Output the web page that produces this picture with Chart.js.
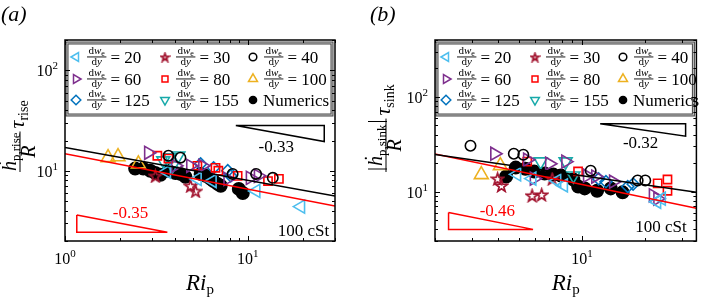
<!DOCTYPE html>
<html><head><meta charset="utf-8">
<script src="https://cdn.jsdelivr.net/npm/chart.js@4.4.1/dist/chart.umd.min.js"></script>
<style>
html,body{margin:0;padding:0;background:#fff;}
#wrap{position:relative;width:706px;height:297px;overflow:hidden;background:#fff;}
canvas{position:absolute;top:0;}
</style></head><body>
<div id="wrap">
<canvas id="ca" width="353" height="297" style="left:0;width:353px;height:297px"></canvas>
<canvas id="cb" width="353" height="297" style="left:353px;width:353px;height:297px"></canvas>
</div>
<script>
// ---------------- DATA : panel (a) ----------------
const A_X_20 = [3.6, 5.3, 6.4, 11.1, 19.5];
const A_Y_20 = [9.8, 8.3, 7.9, 6.3, 4.4];
const A_X_30 = [3.12, 4.86, 5.18];
const A_Y_30 = [8.9, 7.1, 6.3];
const A_X_40 = [3.68, 4.28, 8.26, 11.1, 13.7];
const A_Y_40 = [14.1, 13.5, 9.3, 9.3, 8.5];
const A_X_60 = [2.86, 4.02, 4.86, 5.66, 7.77, 10.3, 11.4];
const A_Y_60 = [15.1, 11.2, 11.2, 11.2, 8.3, 8.5, 8.9];
const A_X_80 = [3.2, 3.68, 5.3, 6.66, 6.9, 8.8, 12.9, 14.8];
const A_Y_80 = [14.1, 13.2, 11.2, 10.7, 10.0, 8.9, 7.9, 8.3];
const A_X_100 = [1.72, 1.95, 2.52];
const A_Y_100 = [13.5, 13.8, 11.7];
const A_X_125 = [5.52, 6.5, 7.77, 8.07];
const A_Y_125 = [11.7, 10.7, 10.0, 8.9];
const A_X_155 = [3.45, 3.77, 4.17, 3.87];
const A_Y_155 = [12.6, 13.5, 14.1, 11.2];
const A_X_NUM = [2.42, 2.68, 2.93, 3.12, 3.33, 3.68, 4.02, 4.28, 4.56, 5.52, 5.88, 6.26, 6.5, 6.84, 7.11, 8.93, 9.39];
const A_Y_NUM = [10.5, 10.5, 10.0, 9.5, 9.1, 10.0, 9.5, 9.3, 8.7, 9.3, 8.9, 8.3, 7.9, 7.4, 7.1, 6.6, 6.0];
const A_FIT_BLACK_X = [1, 30], A_FIT_BLACK_Y = [17.0, 5.6];
const A_FIT_RED_X = [1, 30], A_FIT_RED_Y = [14.8, 4.47];
const A_TRI_BLACK_X = [8.6, 26.2, 26.2, 8.6], A_TRI_BLACK_Y = [28.2, 28.2, 19.5, 28.2];
const A_TRI_RED_X = [1.16, 1.16, 3.63, 1.16], A_TRI_RED_Y = [3.63, 2.45, 2.45, 3.63];
const A_X_TICKS = [1,2,3,4,5,6,7,8,9,10,20,30];
const A_Y_TICKS = [2,3,4,5,6,7,8,9,10,20,30,40,50,60,70,80,90,100,200];

// ---------------- DATA : panel (b) ----------------
const B_X_20 = [4.9, 5.79, 7.6, 8.18, 22.7, 23.9];
const B_Y_20 = [15.2, 13.7, 13.0, 11.6, 7.8, 8.4];
const B_X_30 = [3.97, 4.14, 5.79, 6.43, 7.22];
const B_Y_30 = [13.7, 11.6, 9.1, 9.3, 13.7];
const B_X_40 = [2.95, 4.74, 5.26, 11.0, 18.4, 20.0];
const B_Y_40 = [30.5, 25.1, 24.5, 16.6, 13.1, 13.1];
const B_X_60 = [3.84, 5.5, 5.92, 7.0, 8.36, 10.6, 11.6, 14.1, 21.8, 22.9];
const B_Y_60 = [25.1, 21.7, 13.7, 19.7, 20.7, 14.7, 14.4, 12.7, 9.1, 8.4];
const B_X_80 = [5.49, 9.58, 22.9, 25.5, 25.5];
const B_Y_80 = [20.7, 16.3, 12.2, 13.4, 10.2];
const B_X_100 = [3.32, 4.09];
const B_Y_100 = [15.1, 18.8];
const B_X_125 = [12.0, 13.0, 16.5, 17.5];
const B_Y_125 = [13.6, 12.7, 11.3, 12.0];
const B_X_155 = [6.36, 8.36, 9.1];
const B_Y_155 = [20.7, 20.7, 14.7];
const B_X_NUM = [4.36, 4.84, 5.38, 5.92, 6.64, 7.3, 7.94, 9.1, 9.59, 10.3, 11.8, 13.7, 15.6];
const B_Y_NUM = [14.4, 17.9, 17.4, 16.3, 15.5, 15.1, 14.8, 13.4, 11.3, 10.8, 10.2, 10.8, 9.8];
const B_FIT_BLACK_X = [2, 35], B_FIT_BLACK_Y = [24.6, 9.85];
const B_FIT_RED_X = [2, 35], B_FIT_RED_Y = [24.9, 6.66];
const B_TRI_BLACK_X = [12.2, 31.1, 31.1, 12.2], B_TRI_BLACK_Y = [52, 52, 38.5, 52];
const B_TRI_RED_X = [2.32, 2.32, 5.85, 2.32], B_TRI_RED_Y = [6.01, 3.98, 3.98, 6.01];
const B_X_TICKS = [2,3,4,5,6,7,8,9,10,20,30];
const B_Y_TICKS = [3,4,5,6,7,8,9,10,20,30,40,50,60,70,80,90,100,200,300,400];

const LEGEND_VALUES = ['20','30','40','60','80','100','125','155'];

// ---------------- STYLE ----------------
const F = "'Liberation Serif','Times New Roman',serif";
function makeStar(size, color, lw) {
  const c = document.createElement('canvas');
  c.width = size; c.height = size;
  const g = c.getContext('2d');
  const cx = size / 2, cy = size / 2 + size * 0.05, R = size / 2 - lw * 0.8, r = R * 0.4;
  g.beginPath();
  for (let k = 0; k < 10; k++) {
    const a = -Math.PI / 2 + k * Math.PI / 5, rr = (k % 2) ? r : R;
    g.lineTo(cx + rr * Math.cos(a), cy + rr * Math.sin(a));
  }
  g.closePath(); g.strokeStyle = color; g.lineWidth = lw; g.lineJoin = 'miter'; g.stroke();
  return c;
}
const STAR_BIG = makeStar(15, '#A2142F', 1.7);
const STAR_SMALL = makeStar(11, '#A2142F', 1.8);
const STY = {
  '20':  {c:'#4DBEEE', s:'triangle', rot:-90, r:7.5, lr:5},
  '30':  {c:'#A2142F', s:STAR_BIG, ls:STAR_SMALL, rot:0, r:7, lr:5},
  '40':  {c:'#000000', s:'circle', rot:0, r:5.2, lr:3.8},
  '60':  {c:'#7E2F8E', s:'triangle', rot:90, r:7.5, lr:5},
  '80':  {c:'#FF0000', s:'rect', rot:0, r:5.8, lr:4.2},
  '100': {c:'#EDB120', s:'triangle', rot:0, r:8, lr:5.2},
  '125': {c:'#0072BD', s:'rectRot', rot:0, r:6, lr:4.8},
  '155': {c:'#17A9A9', s:'triangle', rot:180, r:7.5, lr:5},
  'num': {c:'#000000', s:'circle', rot:0, r:6.2, lr:3.6, fill:true}
};

function pts(xs, ys) { return xs.map((x, i) => ({x: x, y: ys[i]})); }
function markerSet(key, xs, ys) {
  const s = STY[key];
  return {
    data: pts(xs, ys), showLine: false,
    pointStyle: s.s, pointRotation: s.rot, pointRadius: s.r,
    pointBorderColor: s.c, pointBackgroundColor: s.fill ? s.c : 'rgba(0,0,0,0)',
    pointBorderWidth: 1.6, borderColor: s.c, backgroundColor: s.fill ? s.c : 'rgba(0,0,0,0)'
  };
}
function lineSet(xs, ys, color) {
  return {data: pts(xs, ys), showLine: true, pointRadius: 0, borderColor: color, borderWidth: 1.5, fill: false, tension: 0};
}
function expOf(v) {
  const e = Math.round(Math.log10(v));
  return Math.abs(Math.log10(v) - e) < 1e-9 ? String(e) : null;
}
function rich(ctx, parts, x, y, align) {
  let w = 0;
  parts.forEach(p => { ctx.font = p.f; p.w = ctx.measureText(p.t).width; w += p.w + (p.g || 0); });
  let cx = align === 'center' ? x - w / 2 : (align === 'right' ? x - w : x);
  parts.forEach(p => { ctx.font = p.f; ctx.fillText(p.t, cx, y + (p.dy || 0)); cx += p.w + (p.g || 0); });
  return w;
}
function drawMarker(ctx, key, x, y) {
  const s = STY[key];
  ctx.save();
  ctx.strokeStyle = s.c; ctx.fillStyle = s.fill ? s.c : 'rgba(0,0,0,0)'; ctx.lineWidth = 1.5;
  Chart.helpers.drawPoint(ctx, {pointStyle: s.ls || s.s, rotation: s.rot, radius: s.lr, borderWidth: 1.5}, x, y);
  ctx.restore();
}

function makeDeco(cfg) {
  return {
    id: 'deco',
    afterDatasetsDraw(chart) {
      const ctx = chart.ctx, a = chart.chartArea, xs = chart.scales.x, ys = chart.scales.y;
      ctx.save();
      ctx.fillStyle = '#000'; ctx.textBaseline = 'alphabetic';
      // annotation texts
      cfg.texts.forEach(t => {
        ctx.fillStyle = t.c;
        ctx.font = '17px ' + F; ctx.textAlign = t.al; ctx.textBaseline = 'middle';
        ctx.fillText(t.t, xs.getPixelForValue(t.x), ys.getPixelForValue(t.y));
      });
      ctx.textAlign = 'left'; ctx.textBaseline = 'alphabetic';
      // legend
      const bx = {l: a.left + 2, t: a.top + 3, r: a.right - 3, b: a.top + 75};
      ctx.fillStyle = '#fff'; ctx.fillRect(bx.l, bx.t, bx.r - bx.l, bx.b - bx.t);
      ctx.strokeStyle = '#444'; ctx.lineWidth = 3; ctx.strokeRect(bx.l, bx.t, bx.r - bx.l, bx.b - bx.t);
      ctx.strokeStyle = '#c8c8c8'; ctx.lineWidth = 1; ctx.strokeRect(bx.l, bx.t, bx.r - bx.l, bx.b - bx.t);
      const cols = [9, 98, 186], rows = [14, 36, 57];
      const keys = LEGEND_VALUES.concat(['num']);
      keys.forEach((k, i) => {
        const mx = bx.l + cols[i % 3], my = bx.t + rows[Math.floor(i / 3)];
        drawMarker(ctx, k, mx, my);
        ctx.fillStyle = '#000';
        if (k === 'num') { rich(ctx, [{t:'Numerics', f:'17px ' + F}], mx + 10, my + 6, 'left'); return; }
        const fx = mx + 11;
        const num = [{t:'d', f:'11px ' + F}, {t:'w', f:'italic 11px ' + F}, {t:'e', f:'8px ' + F, dy:2}];
        const den = [{t:'d', f:'11px ' + F}, {t:'y', f:'italic 11px ' + F}];
        let nw = 0; num.forEach(p => { ctx.font = p.f; nw += ctx.measureText(p.t).width; });
        const bw = nw + 3;
        rich(ctx, num, fx + bw / 2, my - 3, 'center');
        rich(ctx, den, fx + bw / 2, my + 8, 'center');
        ctx.fillRect(fx, my - 0.5, bw, 0.9);
        rich(ctx, [{t:'= ' + k, f:'17px ' + F}], fx + bw + 4, my + 6, 'left');
      });
      // frame
      ctx.strokeStyle = '#000'; ctx.lineWidth = 1.5;
      ctx.strokeRect(a.left, a.top, a.right - a.left, a.bottom - a.top);
      ctx.lineWidth = 1;
      ctx.beginPath();
      cfg.xt.forEach(v => {
        const p = Math.round(xs.getPixelForValue(v)) + 0.5, L = expOf(v) !== null ? 5 : 3;
        ctx.moveTo(p, a.bottom); ctx.lineTo(p, a.bottom - L);
        ctx.moveTo(p, a.top); ctx.lineTo(p, a.top + L);
      });
      cfg.yt.forEach(v => {
        const p = Math.round(ys.getPixelForValue(v)) + 0.5, L = expOf(v) !== null ? 5 : 3;
        ctx.moveTo(a.left, p); ctx.lineTo(a.left + L, p);
        ctx.moveTo(a.right, p); ctx.lineTo(a.right - L, p);
      });
      ctx.stroke();
      // tick labels (powers of ten)
      ctx.fillStyle = '#000';
      cfg.xt.forEach(v => {
        const e = expOf(v); if (e === null) return;
        const p = xs.getPixelForValue(v);
        rich(ctx, [{t:'10', f:'16px ' + F}, {t:e, f:'11px ' + F, dy:-7}], p, 264, 'center');
      });
      cfg.yt.forEach(v => {
        const e = expOf(v); if (e === null) return;
        const p = ys.getPixelForValue(v);
        rich(ctx, [{t:'10', f:'16px ' + F}, {t:e, f:'11px ' + F, dy:-7}], a.left - 7, p + 6, 'right');
      });
      // panel tag
      ctx.font = 'italic 22px ' + F; ctx.textAlign = 'left';
      ctx.fillText(cfg.tag, cfg.tagX, 21);
      // x label
      rich(ctx, [{t:'Ri', f:'italic 23px ' + F}, {t:'p', f:'15px ' + F, dy:4}], (a.left + a.right) / 2, 290, 'center');
      // y label (rotated)
      ctx.save();
      ctx.translate(cfg.ylX, 172);
      ctx.rotate(-Math.PI / 2);
      let nw = 0; cfg.ynum.forEach(p => { ctx.font = p.f; nw += ctx.measureText(p.t).width + (p.g || 0); });
      const bw = nw + 2;
      rich(ctx, cfg.ynum, bw / 2, -4, 'center');
      rich(ctx, [{t:'R', f:'italic 20px ' + F}], bw / 2, 15, 'center');
      ctx.fillRect(0, -0.5, bw, 1);
      rich(ctx, [{t:'τ', f:'italic 22px ' + F}, {t:cfg.ysub, f:'14px ' + F, dy:4}], bw + 3, 4, 'left');
      ctx.restore();
      ctx.restore();
    }
  };
}

function build(id, d) {
  const datasets = [
    lineSet(d.fbx, d.fby, '#000000'),
    lineSet(d.frx, d.fry, '#FF0000'),
    lineSet(d.tbx, d.tby, '#000000'),
    lineSet(d.trx, d.try_, '#FF0000'),
    markerSet('20', d.s[0][0], d.s[0][1]),
    markerSet('30', d.s[1][0], d.s[1][1]),
    markerSet('40', d.s[2][0], d.s[2][1]),
    markerSet('60', d.s[3][0], d.s[3][1]),
    markerSet('80', d.s[4][0], d.s[4][1]),
    markerSet('100', d.s[5][0], d.s[5][1]),
    markerSet('125', d.s[6][0], d.s[6][1]),
    markerSet('155', d.s[7][0], d.s[7][1]),
    markerSet('num', d.s[8][0], d.s[8][1])
  ];
  return new Chart(document.getElementById(id), {
    type: 'scatter',
    data: {datasets: datasets},
    options: {
      responsive: false, animation: false, devicePixelRatio: 1, events: [],
      layout: {padding: {left: 0, right: d.padR, top: 40, bottom: 0}},
      plugins: {legend: {display: false}, tooltip: {enabled: false}},
      scales: {
        x: {
          type: 'logarithmic', min: d.xmin, max: d.xmax, position: 'bottom',
          grid: {display: false, drawTicks: false}, border: {display: false},
          afterBuildTicks: s => { s.ticks = d.xt.map(v => ({value: v})); },
          afterFit: s => { s.height = 56; },
          ticks: {display: false, autoSkip: false, maxRotation: 0}
        },
        y: {
          type: 'logarithmic', min: d.ymin, max: d.ymax, position: 'left',
          grid: {display: false, drawTicks: false}, border: {display: false},
          afterBuildTicks: s => { s.ticks = d.yt.map(v => ({value: v})); },
          afterFit: s => { s.width = d.yw; },
          ticks: {display: false, autoSkip: false}
        }
      }
    },
    plugins: [makeDeco(d.deco)]
  });
}

build('ca', {
  fbx: A_FIT_BLACK_X, fby: A_FIT_BLACK_Y, frx: A_FIT_RED_X, fry: A_FIT_RED_Y,
  tbx: A_TRI_BLACK_X, tby: A_TRI_BLACK_Y, trx: A_TRI_RED_X, try_: A_TRI_RED_Y,
  s: [[A_X_20, A_Y_20], [A_X_30, A_Y_30], [A_X_40, A_Y_40], [A_X_60, A_Y_60], [A_X_80, A_Y_80],
      [A_X_100, A_Y_100], [A_X_125, A_Y_125], [A_X_155, A_Y_155], [A_X_NUM, A_Y_NUM]],
  xmin: 1, xmax: 30, ymin: 2, ymax: 200, xt: A_X_TICKS, yt: A_Y_TICKS, padR: 18, yw: 65,
  deco: {
    xt: A_X_TICKS, yt: A_Y_TICKS, tag: '(a)', tagX: 1, ylX: 20,
    ynum: [{t:'ḣ', f:'italic 20px ' + F}, {t:'p,rise', f:'13px ' + F, dy:4}], ysub: 'rise',
    texts: [{t:'-0.33', x:14.3, y:17.0, c:'#000', al:'center'},
            {t:'-0.35', x:2.28, y:3.72, c:'#FF0000', al:'center'},
            {t:'100 cSt', x:27.9, y:2.51, c:'#000', al:'right'}]
  }
});
build('cb', {
  fbx: B_FIT_BLACK_X, fby: B_FIT_BLACK_Y, frx: B_FIT_RED_X, fry: B_FIT_RED_Y,
  tbx: B_TRI_BLACK_X, tby: B_TRI_BLACK_Y, trx: B_TRI_RED_X, try_: B_TRI_RED_Y,
  s: [[B_X_20, B_Y_20], [B_X_30, B_Y_30], [B_X_40, B_Y_40], [B_X_60, B_Y_60], [B_X_80, B_Y_80],
      [B_X_100, B_Y_100], [B_X_125, B_Y_125], [B_X_155, B_Y_155], [B_X_NUM, B_Y_NUM]],
  xmin: 2, xmax: 35, ymin: 3, ymax: 400, xt: B_X_TICKS, yt: B_Y_TICKS, padR: 1, yw: 82,
  deco: {
    xt: B_X_TICKS, yt: B_Y_TICKS, tag: '(b)', tagX: 17, ylX: 33,
    ynum: [{t:'|', f:'20px ' + F, g:1}, {t:'ḣ', f:'italic 20px ' + F}, {t:'p,sink', f:'13px ' + F, dy:4, g:1}, {t:'|', f:'20px ' + F}], ysub: 'sink',
    texts: [{t:'-0.32', x:19.0, y:32.0, c:'#000', al:'center'},
            {t:'-0.46', x:3.96, y:6.15, c:'#FF0000', al:'center'},
            {t:'100 cSt', x:31.5, y:4.18, c:'#000', al:'right'}]
  }
});
</script>
</body></html>
